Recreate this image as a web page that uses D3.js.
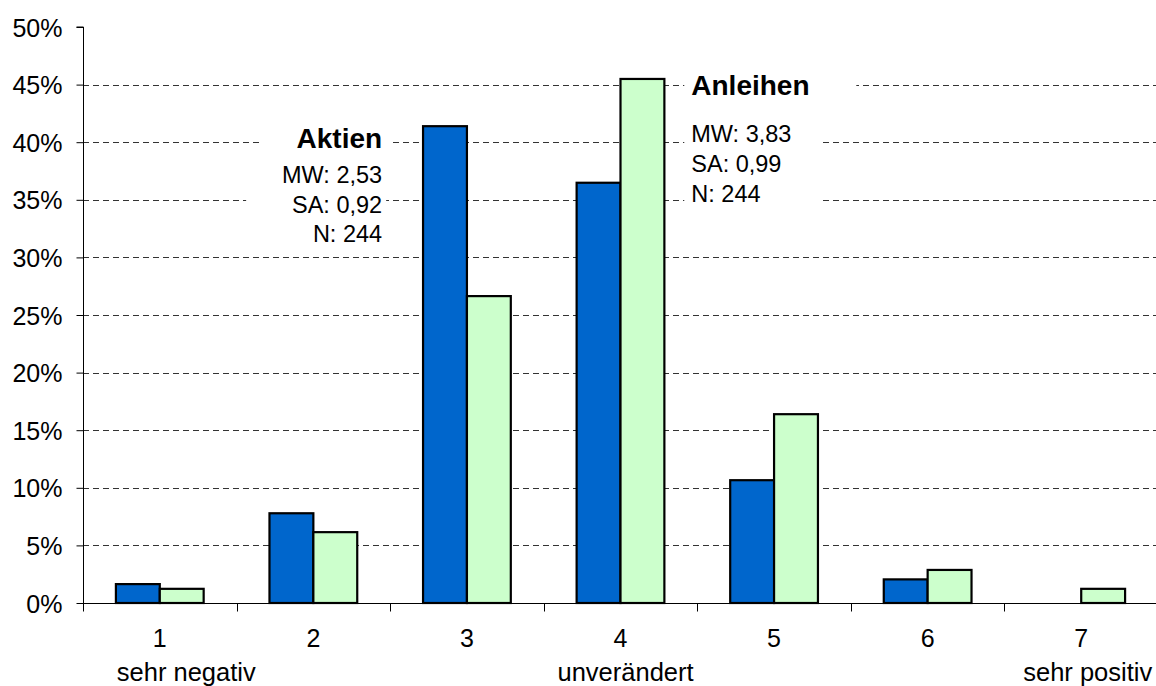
<!DOCTYPE html>
<html><head><meta charset="utf-8">
<script src="https://cdn.jsdelivr.net/npm/d3@7"></script>
<style>
html,body{margin:0;padding:0;background:#fff;overflow:hidden}
text{font-family:Arial,"Liberation Sans",sans-serif;fill:#000}
</style></head>
<body>
<svg id="c" width="1156" height="686"></svg>
<script>
const categories = ["1","2","3","4","5","6","7"];
const subLabels = ["sehr negativ","","","unverändert","","","sehr positiv"];
const aktien = [0.0164,0.0779,0.4139,0.3648,0.1066,0.0205,0];
const anleihen = [0.0123,0.0615,0.2664,0.4549,0.1639,0.0287,0.0123];
const yTicks = [0,0.05,0.10,0.15,0.20,0.25,0.30,0.35,0.40,0.45,0.50];
const aktienStats = ["MW: 2,53","SA: 0,92","N: 244"];
const anleihenStats = ["MW: 3,83","SA: 0,99","N: 244"];

(function(){
const svg = d3.select("#c");
const pL = 83, pR = 1158, pT = 27, pB = 603;
const x = d3.scaleBand().domain(categories).range([pL,pR]).paddingInner(0).paddingOuter(0);
const y = d3.scaleLinear().domain([0,0.5]).range([pB,pT]);
const bw = x.bandwidth()/3.5;
const sub = d3.scaleBand().domain(["a","b"]).range([0,2*bw]);

// gridlines
svg.append("g").selectAll("line").data(yTicks.filter(d=>d>0 && d<0.5)).join("line")
  .attr("x1",pL).attr("x2",1156)
  .attr("y1",d=>Math.round(y(d))+0.5).attr("y2",d=>Math.round(y(d))+0.5)
  .attr("stroke","#333").attr("stroke-width",1).attr("stroke-dasharray","6,4");

// white boxes behind annotations
const boxes = [
  [x("3")-129, y(0.4)-18, 128, 32],
  [x("3")-144, y(0.35)-40, 140, 90],
  [x("4")+x.bandwidth()-13, y(0.45)-18, 172, 36],
  [x("4")+x.bandwidth()-13, y(0.4)-22, 136, 94]
];
svg.append("g").selectAll("rect").data(boxes).join("rect")
  .attr("x",d=>d[0]).attr("y",d=>d[1]).attr("width",d=>d[2]).attr("height",d=>d[3])
  .attr("fill","#fff");

// bars
const g = svg.append("g");
categories.forEach((c,i)=>{
  const x0 = x(c) + (x.bandwidth()-2*bw)/2;
  [["a",aktien[i],"#0066CC"],["b",anleihen[i],"#CCFFCC"]].forEach(([k,v,col])=>{
    if(v<=0) return;
    g.append("rect").attr("x",x0+sub(k)).attr("y",y(v))
      .attr("width",sub.bandwidth()).attr("height",y(0)-y(v))
      .attr("fill",col).attr("stroke","#000").attr("stroke-width",2.2);
  });
});

// y axis
const ya = svg.append("g").attr("transform",`translate(${pL+0.5},0)`)
  .call(d3.axisLeft(y).tickValues(yTicks).tickFormat(d=>Math.round(d*100)+"%").tickSize(7).tickPadding(14));
ya.select(".domain").attr("stroke","#000").attr("d",`M-7,${pT}H0V${pB}`);
ya.selectAll(".tick line").attr("stroke","#000");
ya.selectAll(".tick text").attr("font-size","25px").attr("font-family","Arial, 'Liberation Sans', sans-serif").attr("fill","#000").attr("dy","0.36em");

// x axis
const xa = svg.append("g").attr("transform",`translate(0,${pB+0.5})`);
xa.append("line").attr("x1",pL).attr("x2",1156).attr("stroke","#000");
xa.selectAll(".t").data(categories).join("line")
  .attr("x1",d=>Math.round(x(d))+0.5).attr("x2",d=>Math.round(x(d))+0.5)
  .attr("y1",0).attr("y2",8).attr("stroke","#000");
xa.selectAll(".n").data(categories).join("text")
  .attr("x",d=>x(d)+x.bandwidth()/2).attr("y",43)
  .attr("text-anchor","middle").attr("font-size","25px").text(d=>d);
const subOffsets = [-43,0,0,-63,0,0,-58];
xa.selectAll(".s").data(categories).join("text")
  .attr("x",(d,i)=>x(d)+x.bandwidth()/2+subOffsets[i]).attr("y",77)
  .attr("text-anchor","start").attr("font-size","25.5px").text((d,i)=>subLabels[i]);

// annotations
const ax = x("3")-8;
svg.append("text").attr("x",ax).attr("y",y(0.4)+6).attr("text-anchor","end")
  .attr("font-size","28px").attr("font-weight","bold").text("Aktien");
svg.append("g").selectAll("text").data(aktienStats).join("text")
  .attr("x",ax).attr("y",(d,i)=>y(0.4)+41+i*29.3).attr("text-anchor","end")
  .attr("font-size","23.5px").text(d=>d);

const bx = x("4")+x.bandwidth()-6;
svg.append("text").attr("x",bx).attr("y",y(0.45)+10).attr("text-anchor","start")
  .attr("font-size","28px").attr("font-weight","bold").text("Anleihen");
svg.append("g").selectAll("text").data(anleihenStats).join("text")
  .attr("x",bx).attr("y",(d,i)=>y(0.4)+0+i*30).attr("text-anchor","start")
  .attr("font-size","23.5px").text(d=>d);
})();
</script>
</body></html>
